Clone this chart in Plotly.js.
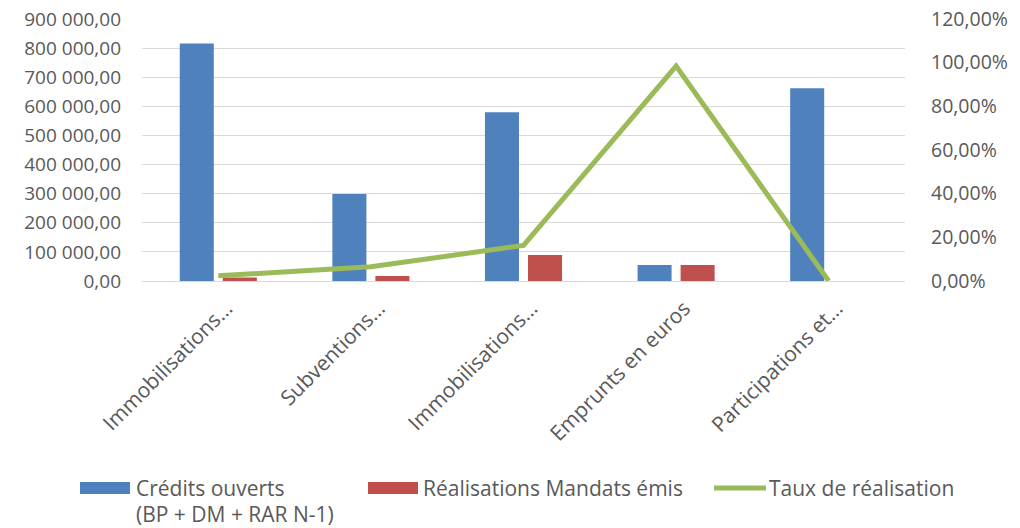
<!DOCTYPE html>
<html>
<head>
<meta charset="utf-8">
<script src="https://cdn.plot.ly/plotly-3.0.1.min.js"></script>
<style>html,body{margin:0;padding:0;background:#fff;}#chart{width:1020px;height:528px;}</style>
</head>
<body>
<div id="chart"></div>
<script>
const categories = ["Immobilisations…", "Subventions…", "Immobilisations…", "Emprunts en euros", "Participations et…"];
const creditsOuverts = [816000, 299000, 580000, 55000, 662000];
const realisations = [12000, 17000, 89000, 55000, 0];
const tauxRealisation = [0.024, 0.065, 0.163, 0.984, 0.0];
const seriesNames = ["Crédits ouverts", "(BP + DM + RAR N-1)", "Réalisations Mandats émis", "Taux de réalisation"];

const xIdx = categories.map((c, i) => i);
const FONT = "Open Sans, sans-serif";
const TXT = "#595959";
const W = 1020, H = 528, L = 142, R = 115, T = 19, B = 247;
const pw = W - L - R, ph = H - T - B;
const px = x => (x - L) / pw;
const py = y => (H - B - y) / ph;

const traces = [
  {type: "bar", x: xIdx, y: creditsOuverts, name: seriesNames[0], marker: {color: "#4f81bd"}, showlegend: false, hoverinfo: "skip"},
  {type: "bar", x: xIdx, y: realisations, name: seriesNames[2], marker: {color: "#c0504d"}, showlegend: false, hoverinfo: "skip"},
  {type: "scatter", mode: "lines", x: xIdx, y: tauxRealisation, yaxis: "y2", name: seriesNames[3],
   line: {color: "#9bbb59", width: 5}, showlegend: false, hoverinfo: "skip"}
];

const layout = {
  width: W, height: H,
  margin: {l: L, r: R, t: T, b: B},
  paper_bgcolor: "#fff", plot_bgcolor: "#fff",
  separators: ", ",
  font: {family: FONT, size: 20, color: TXT},
  barmode: "group", bargap: 0.436, bargroupgap: 0.209,
  xaxis: {range: [-0.5, 4.5], tickvals: xIdx, ticktext: categories, tickangle: -45,
          showgrid: false, zeroline: false, showline: false, ticks: "", fixedrange: true,
          ticklabelstandoff: 10, ticklabelshift: 8,
          tickfont: {family: FONT, size: 21, color: TXT}},
  yaxis: {range: [0, 900000], dtick: 100000, tickformat: ",.2f", showgrid: true, gridcolor: "#d9d9d9",
          gridwidth: 1, zeroline: true, zerolinecolor: "#d9d9d9", zerolinewidth: 1, showline: false,
          ticklabelstandoff: 20, tickfont: {family: FONT, size: 19, color: TXT}},
  yaxis2: {range: [0, 1.2], dtick: 0.2, tickformat: ".2%", overlaying: "y", side: "right",
           showgrid: false, zeroline: false, showline: false, ticklabelstandoff: 25,
           tickfont: {family: FONT, size: 19.5, color: TXT}},
  shapes: [
    {type: "rect", xref: "paper", yref: "paper", x0: px(80), x1: px(130), y0: py(482), y1: py(494), fillcolor: "#4f81bd", line: {width: 0}},
    {type: "rect", xref: "paper", yref: "paper", x0: px(368), x1: px(418), y0: py(482), y1: py(494), fillcolor: "#c0504d", line: {width: 0}},
    {type: "line", xref: "paper", yref: "paper", x0: px(714), x1: px(766), y0: py(488), y1: py(488), line: {color: "#9bbb59", width: 5}}
  ],
  annotations: [
    {xref: "paper", yref: "paper", x: px(134), y: py(488), xanchor: "left", yanchor: "middle", text: seriesNames[0], showarrow: false, font: {family: FONT, size: 21, color: TXT}},
    {xref: "paper", yref: "paper", x: px(134), y: py(514), xanchor: "left", yanchor: "middle", text: seriesNames[1], showarrow: false, font: {family: FONT, size: 21, color: TXT}},
    {xref: "paper", yref: "paper", x: px(421), y: py(488), xanchor: "left", yanchor: "middle", text: seriesNames[2], showarrow: false, font: {family: FONT, size: 21, color: TXT}},
    {xref: "paper", yref: "paper", x: px(767), y: py(488), xanchor: "left", yanchor: "middle", text: seriesNames[3], showarrow: false, font: {family: FONT, size: 21, color: TXT}}
  ]
};

Plotly.newPlot("chart", traces, layout, {displayModeBar: false, staticPlot: true});
</script>
</body>
</html>
